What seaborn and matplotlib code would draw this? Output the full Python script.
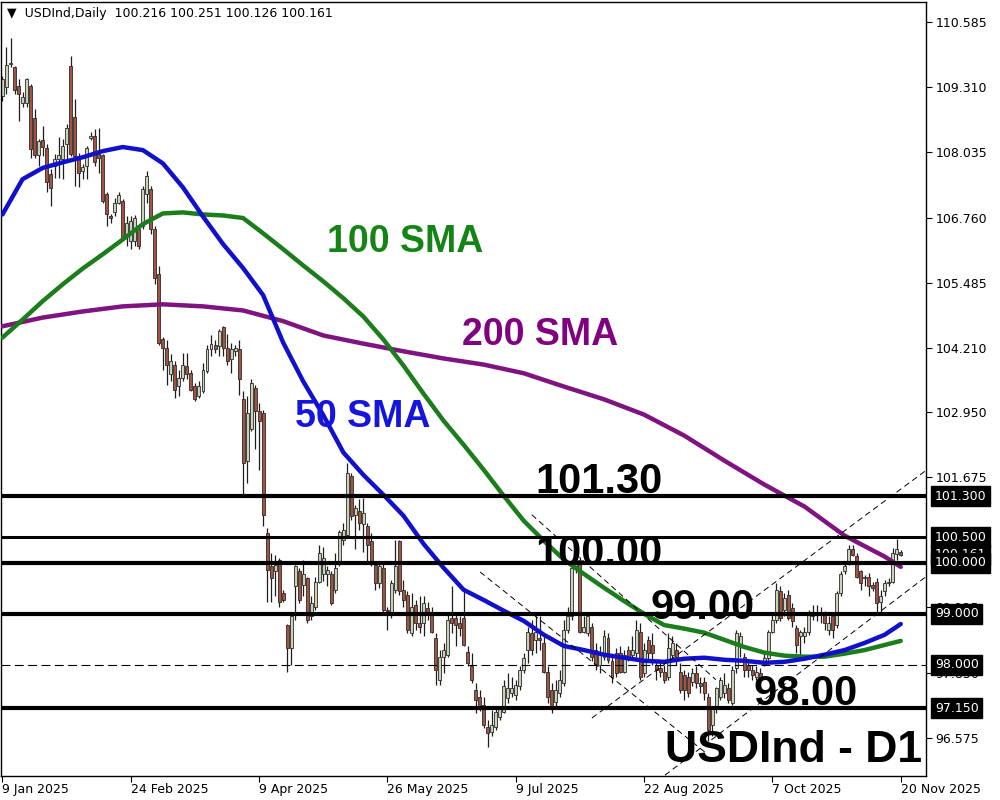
import numpy as np
import matplotlib
matplotlib.use("Agg")
import matplotlib.pyplot as plt
import matplotlib.transforms as mtransforms
import seaborn as sns

sns.set_style("white")
plt.rcParams['font.family'] = ['DejaVu Sans']

# ---------------- data (USDInd, daily, 9 Jan - 20 Nov 2025) ----------------
opens = [109.14, 109.31, 109.76, 109.70, 109.33, 109.01, 109.01, 109.34, 108.70, 107.98,
         108.27, 108.13, 107.61, 107.76, 107.90, 107.90, 108.20, 109.73, 108.72, 107.97,
         107.67, 107.77, 108.31, 108.36, 108.00, 107.98, 107.22, 106.78, 106.86, 107.05,
         107.09, 106.44, 106.30, 106.30, 106.53, 106.59, 107.22, 107.31, 106.53, 105.65,
         104.39, 104.21, 103.69, 103.88, 103.46, 103.62, 103.85, 103.72, 103.46, 103.26,
         103.36, 103.75, 104.18, 104.27, 104.24, 104.62, 104.21, 103.98, 104.14, 104.18,
         103.20, 101.99, 102.61, 103.42, 102.97, 102.93, 100.58, 99.93, 99.83, 100.06,
         99.41, 98.78, 98.33, 99.54, 99.83, 99.57, 99.70, 98.95, 99.14, 99.63,
         99.78, 99.77, 99.77, 99.47, 99.99, 100.45, 100.55, 101.69, 100.94, 101.01,
         100.75, 100.71, 100.42, 99.96, 99.60, 99.90, 99.08, 98.98, 99.47, 100.42,
         99.47, 99.37, 98.62, 99.18, 98.82, 98.82, 99.11, 99.01, 98.52, 97.71,
         98.16, 98.20, 98.92, 98.92, 98.82, 98.92, 98.26, 97.97, 97.51, 97.38,
         97.22, 96.79, 96.69, 96.79, 96.97, 97.08, 97.35, 97.44, 97.41, 97.58,
         97.90, 98.29, 98.62, 98.49, 98.52, 98.42, 97.87, 97.51, 97.28, 97.44,
         97.64, 98.69, 98.95, 99.93, 100.06, 98.65, 98.62, 98.75, 98.29, 98.00,
         98.16, 98.52, 98.07, 98.23, 98.23, 97.87, 98.29, 98.20, 98.23, 98.65,
         97.84, 98.49, 98.39, 98.00, 97.93, 97.87, 97.77, 98.20, 98.29, 97.87,
         97.80, 97.77, 97.67, 97.84, 97.64, 97.67, 97.38, 96.82, 97.18, 97.38,
         97.45, 97.54, 97.25, 97.93, 98.39, 98.16, 98.00, 97.90, 97.77, 97.84,
         98.03, 98.13, 98.65, 98.88, 99.44, 99.08, 99.37, 99.11, 98.72, 98.56,
         98.56, 98.65, 98.95, 98.98, 99.03, 99.01, 98.69, 98.95, 98.78, 99.40,
         99.83, 99.99, 100.26, 100.13, 99.83, 99.70, 99.73, 99.57, 99.63, 99.24,
         99.44, 99.60, 99.63, 100.18, 100.216]
highs = [109.54, 110.09, 110.27, 109.73, 109.47, 109.21, 109.50, 109.37, 108.88, 108.30,
         108.56, 108.20, 107.71, 108.00, 108.33, 108.30, 108.59, 109.93, 109.08, 108.03,
         107.80, 108.16, 108.43, 108.49, 108.52, 108.00, 107.25, 106.82, 107.15, 107.25,
         107.12, 106.79, 106.79, 106.80, 106.59, 107.38, 107.67, 107.38, 106.59, 105.81,
         104.43, 104.37, 104.08, 103.95, 103.78, 104.11, 104.11, 103.78, 103.52, 103.55,
         103.91, 104.27, 104.45, 104.37, 104.57, 104.63, 104.47, 104.31, 104.27, 104.37,
         103.36, 103.26, 103.59, 103.49, 103.13, 103.00, 100.68, 100.19, 100.16, 100.09,
         99.47, 98.80, 98.98, 99.96, 99.90, 100.06, 99.73, 99.34, 99.73, 100.35,
         100.30, 99.93, 99.83, 100.19, 100.65, 100.78, 101.95, 101.76, 101.14, 101.24,
         101.27, 100.78, 100.58, 100.03, 99.99, 99.99, 99.14, 99.67, 100.45, 100.45,
         99.67, 99.44, 99.41, 99.27, 99.34, 99.34, 99.24, 99.14, 98.62, 98.29,
         98.42, 99.01, 99.54, 99.01, 98.95, 99.47, 98.36, 98.23, 97.64, 97.51,
         97.38, 96.92, 97.12, 97.18, 97.20, 97.71, 97.84, 97.77, 97.71, 97.97,
         98.23, 98.75, 98.88, 98.95, 98.95, 98.62, 97.97, 97.64, 97.71, 97.90,
         98.88, 99.14, 99.96, 100.16, 100.12, 98.95, 99.01, 98.82, 98.42, 98.36,
         98.69, 98.62, 98.16, 98.33, 98.36, 98.29, 98.36, 98.56, 98.88, 98.82,
         98.42, 98.56, 98.62, 98.10, 98.10, 98.00, 98.62, 98.56, 98.42, 98.03,
         97.90, 97.87, 97.93, 97.97, 97.77, 97.77, 97.44, 97.20, 97.56, 97.77,
         97.84, 97.64, 97.97, 98.69, 98.65, 98.23, 98.10, 98.00, 97.97, 97.93,
         98.23, 98.69, 99.00, 99.60, 99.54, 99.40, 99.47, 99.21, 98.78, 98.69,
         98.75, 99.08, 99.18, 99.18, 99.14, 99.05, 98.95, 98.98, 99.45, 99.83,
         100.03, 100.35, 100.35, 100.19, 99.86, 99.76, 99.80, 99.63, 99.70, 99.47,
         99.67, 99.70, 100.29, 100.46, 100.251]
lows = [109.05, 109.18, 109.70, 109.18, 108.65, 108.92, 108.92, 107.93, 107.93, 107.77,
        107.97, 107.25, 106.99, 107.54, 107.54, 107.51, 107.87, 107.97, 107.38, 107.35,
        107.51, 107.51, 108.28, 107.77, 107.64, 107.05, 106.59, 106.66, 106.79, 107.02,
        106.33, 106.20, 106.14, 106.20, 106.14, 106.53, 107.05, 106.44, 105.45, 104.27,
        103.78, 103.49, 103.55, 103.23, 103.26, 103.55, 103.59, 103.36, 103.16, 103.23,
        103.33, 103.72, 104.05, 104.11, 104.05, 104.05, 103.88, 103.72, 104.05, 103.29,
        101.30, 101.56, 102.58, 102.22, 101.82, 100.71, 99.24, 99.24, 99.34, 99.14,
        99.24, 97.87, 98.00, 98.88, 99.21, 99.34, 98.82, 98.88, 99.08, 99.60,
        99.65, 99.54, 99.18, 99.41, 99.93, 100.35, 100.52, 100.84, 100.26, 100.65,
        100.22, 99.99, 99.93, 99.47, 99.50, 99.01, 98.69, 98.92, 99.41, 99.37,
        99.14, 98.62, 98.56, 98.69, 98.62, 98.56, 98.88, 98.62, 97.61, 97.61,
        97.84, 98.16, 98.62, 98.36, 98.56, 98.36, 97.97, 97.64, 97.05, 97.10,
        96.76, 96.40, 96.60, 96.72, 96.92, 97.05, 97.25, 97.38, 97.31, 97.51,
        97.84, 98.03, 98.20, 98.23, 98.29, 97.84, 97.25, 97.05, 97.18, 97.38,
        97.58, 98.62, 98.88, 99.80, 98.62, 98.62, 98.56, 98.07, 97.90, 97.84,
        98.10, 98.03, 97.64, 97.77, 97.84, 97.84, 98.07, 98.16, 98.16, 97.71,
        97.77, 98.10, 98.00, 97.71, 97.77, 97.64, 97.71, 98.10, 98.00, 97.44,
        97.31, 97.38, 97.58, 97.54, 97.44, 97.31, 96.50, 96.60, 97.05, 97.31,
        97.35, 97.25, 97.22, 97.84, 98.16, 97.77, 97.77, 97.71, 97.71, 97.71,
        97.97, 98.10, 98.62, 98.82, 98.85, 98.95, 98.88, 98.75, 98.23, 98.20,
        98.42, 98.59, 98.88, 98.85, 98.82, 98.69, 98.59, 98.52, 98.72, 99.35,
        99.77, 99.96, 100.13, 99.70, 99.47, 99.54, 99.34, 99.44, 99.01, 99.01,
        99.34, 99.54, 99.60, 100.06, 100.126]
closes = [109.47, 109.74, 109.79, 109.26, 109.18, 109.11, 109.48, 108.10, 107.98, 108.26,
          108.15, 107.45, 107.33, 107.91, 107.98, 108.16, 108.52, 108.00, 107.97, 107.64,
          107.74, 108.13, 108.35, 107.84, 107.93, 107.09, 106.82, 106.76, 107.05, 107.20,
          106.37, 106.66, 106.69, 106.76, 106.20, 107.31, 107.58, 106.53, 105.58, 104.31,
          104.21, 103.88, 103.95, 103.39, 103.62, 103.88, 103.69, 103.39, 103.20, 103.46,
          103.78, 104.18, 104.29, 104.18, 104.54, 104.21, 103.95, 104.18, 104.21, 103.59,
          101.95, 102.93, 103.52, 102.97, 102.77, 100.94, 99.86, 99.70, 99.96, 99.24,
          99.27, 98.33, 98.95, 99.93, 99.27, 99.77, 98.88, 99.21, 99.63, 100.19,
          100.10, 99.86, 99.21, 99.90, 100.61, 100.65, 101.76, 100.91, 101.07, 100.78,
          100.97, 100.35, 100.03, 99.60, 99.93, 99.08, 99.05, 99.60, 99.93, 99.44,
          99.27, 98.69, 99.14, 98.82, 98.75, 99.21, 99.01, 98.65, 97.90, 98.16,
          98.29, 98.88, 98.82, 98.78, 98.72, 98.39, 98.03, 97.71, 97.31, 97.16,
          96.82, 96.66, 96.82, 97.08, 97.15, 97.58, 97.54, 97.54, 97.61, 97.90,
          98.13, 98.65, 98.29, 98.65, 98.49, 97.87, 97.38, 97.18, 97.51, 97.71,
          98.69, 98.95, 99.89, 100.06, 98.65, 98.75, 98.95, 98.16, 98.00, 98.23,
          98.56, 98.10, 97.77, 97.84, 97.87, 98.20, 98.16, 98.29, 98.69, 97.77,
          98.29, 98.23, 98.23, 97.90, 97.87, 97.71, 98.33, 98.42, 98.16, 97.51,
          97.51, 97.44, 97.84, 97.64, 97.58, 97.44, 96.72, 97.15, 97.54, 97.71,
          97.61, 97.31, 97.90, 98.62, 98.56, 97.90, 97.90, 97.80, 97.87, 97.77,
          98.13, 98.65, 98.88, 99.47, 98.91, 99.31, 98.91, 98.85, 98.39, 98.65,
          98.65, 98.98, 99.01, 99.01, 98.98, 98.82, 98.82, 98.69, 99.40, 99.77,
          99.93, 100.26, 100.16, 99.73, 99.60, 99.73, 99.54, 99.50, 99.21, 99.34,
          99.60, 99.63, 100.19, 100.27, 100.161]

date_labels = ['9 Jan 2025', '24 Feb 2025', '9 Apr 2025', '26 May 2025',
               '9 Jul 2025', '22 Aug 2025', '7 Oct 2025', '20 Nov 2025']
bars_per_label = 32

# moving averages (sampled every few bars)
sma50_bar = list(range(0, 221, 5)) + [224]
sma50 = [106.82, 107.51, 107.73, 107.84, 107.94, 108.06, 108.14, 108.08, 107.82, 107.35,
         106.78, 106.24, 105.77, 105.24, 104.31, 103.55, 102.89, 102.16, 101.72, 101.33,
         100.92, 100.37, 99.90, 99.47, 99.27, 99.06, 98.86, 98.59, 98.37, 98.29,
         98.20, 98.14, 98.08, 98.06, 98.12, 98.14, 98.10, 98.08, 98.04, 98.06,
         98.12, 98.20, 98.29, 98.43, 98.59, 98.80]
sma100_bar = list(range(0, 221, 5)) + [224]
sma100 = [104.41, 104.76, 105.12, 105.45, 105.76, 106.04, 106.33, 106.63, 106.84, 106.86,
          106.82, 106.80, 106.75, 106.45, 106.14, 105.82, 105.51, 105.18, 104.82, 104.37,
          103.86, 103.31, 102.78, 102.31, 101.82, 101.31, 100.82, 100.43, 100.06, 99.78,
          99.51, 99.25, 99.00, 98.78, 98.71, 98.63, 98.49, 98.35, 98.24, 98.18,
          98.16, 98.16, 98.22, 98.29, 98.39, 98.47]
sma200_bar = list(range(0, 221, 10)) + [224]
sma200 = [104.63, 104.80, 104.92, 105.02, 105.06, 105.02, 104.94, 104.73, 104.45, 104.29,
          104.14, 104.00, 103.88, 103.71, 103.45, 103.20, 102.90, 102.49, 102.00, 101.53,
          101.10, 100.53, 100.12, 99.92]

# horizontal levels drawn on the chart
levels_thick = [101.30, 100.00, 99.00, 97.15]
level_thin = 100.50
level_dashed = 98.00
# dashed trend lines (bar, price) start/end
trend_bars = [[132.0, 177.9], [119.1, 175.2], [147.0, 230.0], [165.2, 230.0]]
trend_prices = [[100.94, 97.71], [99.82, 96.29], [96.96, 101.79], [95.84, 99.71]]

# 100.400 sits under the 100.500 box in the reference, so it is left out
price_ticks = [110.585, 109.310, 108.035, 106.760, 105.485, 104.210, 102.950,
               101.675, 99.125, 97.850, 96.575]
boxed_prices = [101.300, 100.500, 100.000, 99.000, 98.000, 97.150]
last_price = 100.161

# ---------------- figure ----------------
fig = plt.figure(figsize=(10, 8), dpi=100)
ax = fig.add_axes([0.001, 0.03, 0.925, 0.9675])

bull_col = '#c9d2b6'
bear_col = '#a3533f'
edge_col = '#2b2b2b'

o = np.array(opens)
h = np.array(highs)
l = np.array(lows)
c = np.array(closes)
bars = np.arange(len(c))
up = c >= o
body_lo = np.minimum(o, c)
body_h = np.maximum(np.abs(c - o), 0.015)

ax.vlines(bars, l, h, color='#1e1e1e', lw=0.9, zorder=2)
ax.bar(bars[up], body_h[up], bottom=body_lo[up], width=0.74, color=bull_col,
       edgecolor=edge_col, linewidth=0.6, zorder=2.2)
ax.bar(bars[~up], body_h[~up], bottom=body_lo[~up], width=0.74, color=bear_col,
       edgecolor=edge_col, linewidth=0.6, zorder=2.2)

# moving averages
sns.lineplot(x=sma200_bar, y=sma200, ax=ax, color='#7f137f', lw=3.2, zorder=3)
sns.lineplot(x=sma100_bar, y=sma100, ax=ax, color='#1b7d1b', lw=3.2, zorder=3)
sns.lineplot(x=sma50_bar, y=sma50, ax=ax, color='#1111cc', lw=3.2, zorder=3)

# levels and trend lines
for lv in levels_thick:
    ax.axhline(lv, color='black', lw=3, zorder=4)
ax.axhline(level_thin, color='black', lw=2.2, zorder=4)
ax.axhline(level_dashed, color='black', lw=0.8, dashes=(8, 4), zorder=4)
for tb, tp in zip(trend_bars, trend_prices):
    ax.plot(tb, tp, color='black', lw=0.7, dashes=(6, 4), zorder=4)

ax.set_xlim(-0.37, 230.3)
ax.set_ylim(95.824, 110.98)

# annotations
big = dict(family=['Liberation Sans', 'DejaVu Sans'], fontweight='bold', zorder=6)
ax.text(80.9, 106.08, '100 SMA', color='#148414', fontsize=27, **big)
ax.text(114.6, 104.27, '200 SMA', color='#800080', fontsize=27, **big)
ax.text(72.9, 102.65, '50 SMA', color='#1515dd', fontsize=27, **big)
ax.text(132.8, 101.37, '101.30', color='black', fontsize=30, **big)
ax.text(132.8, 99.96, '100.00', color='black', fontsize=30, **big)
ax.text(161.5, 98.90, '99.00', color='black', fontsize=30, **big)
ax.text(187.2, 97.22, '98.00', color='black', fontsize=30, **big)
ax.text(165.2, 96.10, 'USDInd - D1', color='black', fontsize=32, **big)

ax.text(0.006, 0.993, '\u25bc  USDInd,Daily  100.216 100.251 100.126 100.161',
        transform=ax.transAxes, fontsize=9, va='top', ha='left', color='black')

# axes / ticks
for sp in ax.spines.values():
    sp.set_color('black')
    sp.set_linewidth(1)

ax.yaxis.tick_right()
ax.set_yticks(price_ticks)
ax.set_yticklabels([f'{p:.3f}' for p in price_ticks])
ax.tick_params(axis='y', which='both', left=False, right=True, labelleft=False,
               labelright=True, direction='out', length=4, width=0.8, pad=3,
               labelsize=9, colors='black')

ax.set_xticks([k * bars_per_label for k in range(len(date_labels))])
ax.set_xticklabels(date_labels)
for lbl in ax.get_xticklabels():
    lbl.set_ha('left')
ax.tick_params(axis='x', bottom=True, direction='out', length=4, width=0.8, pad=1,
               labelsize=9, colors='black')
ax.set_xlabel('')
ax.set_ylabel('')

# price boxes on the right scale
trans = mtransforms.blended_transform_factory(ax.transAxes, ax.transData)
ax.text(1.0097, last_price, f'{last_price:.3f}', transform=trans, fontsize=9,
        color='white', va='center', ha='left', clip_on=False, zorder=7,
        bbox=dict(boxstyle='square,pad=0.28', fc='black', ec='black'))
for bp in boxed_prices:
    ax.text(1.0097, bp, f'{bp:.3f}', transform=trans, fontsize=9, color='white',
            va='center', ha='left', clip_on=False, zorder=8,
            bbox=dict(boxstyle='square,pad=0.28', fc='black', ec='black'))

fig.savefig('out.png', dpi=100)
